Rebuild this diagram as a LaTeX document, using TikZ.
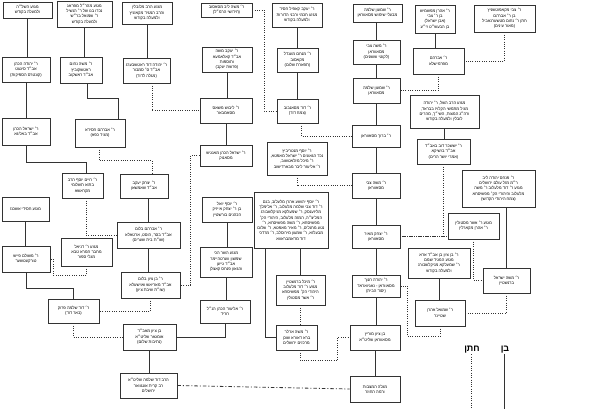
\documentclass[tikz,border=0pt]{standalone}
\usepackage{fontspec}
\newfontfamily\heb[Script=Hebrew]{Liberation Sans}
\TeXXeTstate=1
\newcommand\hebl[1]{\beginR #1\endR}
\tikzset{
  box/.style={draw=black!80, line width=0.7pt, fill=white, align=center, inner sep=0.8pt,
    font=\heb\fontsize{4.1}{5.3}\selectfont},
  son/.style={draw=black!80, line width=0.8pt},
  sil/.style={draw=black!80, line width=0.8pt, dash pattern=on 0.9pt off 1.4pt},
  dashdot/.style={draw=black!80, line width=0.8pt, dash pattern=on 3.5pt off 2pt on 1pt off 2pt},
  legendtext/.style={font=\heb\bfseries\fontsize{9}{10}\selectfont, inner sep=0.5pt}
}
\newcommand\famnode[6]{\node[box, minimum width={#4-#2}, minimum height={#5-#3}] (#1) at ({(#2+#4)/2},{(#3+#5)/2}) {#6};}
\begin{document}
\begin{tikzpicture}[x=1pt,y=-1pt]
\fill[white] (0,0) rectangle (600,409);
\useasboundingbox (0,0) rectangle (600,409);
% row A
\famnode{A1}{3}{2}{52}{18}{\hebl{מגזע השל״ה}\\\hebl{ולמעלה בקודש}}
\famnode{A2}{57}{1}{112}{27}{\hebl{מגזע מהר״ל מפראג}\\\hebl{נכדו בנו של ר׳ הנשיל}\\\hebl{ר׳ שמואל בר״ש}\\\hebl{ולמעלה בקודש}}
\famnode{A3}{122}{2}{172}{24}{\hebl{מגזע הרב מלובלין}\\\hebl{והרב המגיד מקאזניץ}\\\hebl{ולמעלה בקודש}}
\famnode{A4}{201}{3}{252}{17}{\hebl{ר׳ משה ליב מסאסוב}\\\hebl{(חידושי הרמ״ל)}}
\famnode{A5}{272}{3}{322}{27}{\hebl{ר׳ יעקב קאפיל חסיד}\\\hebl{מגזע חכמי ורבני הדורות}\\\hebl{ולמעלה בקודש}}
\famnode{A6}{353}{4}{402}{22}{\hebl{ר׳ שמעון שלמה}\\\hebl{מבעלי שימוש מסאווראן}}
\famnode{A7}{415}{5}{455}{33}{\hebl{ר׳ אהרן מפשמיש}\\\hebl{בן ר׳ צבי}\\\hebl{(אבן ישראל)}\\\hebl{בן הבעש״ט זי״ע}}
\famnode{A8}{474}{5}{535}{32}{\hebl{ר׳ צבי מקאפוטשניץ}\\\hebl{בן ר׳ אברהם}\\\hebl{חתן ר׳ נחום מטשערנאביל}\\\hebl{(מאור עינים)}}
% row B
\famnode{B1}{2}{57}{50}{82}{\hebl{ר׳ יהודה הכהן}\\\hebl{אב״ד סיגעט}\\\hebl{(קונטרס הספיקות)}}
\famnode{B2}{60}{57}{102}{83}{\hebl{ר׳ משה נחום}\\\hebl{ראטשקוביץ}\\\hebl{אב״ד ראשקוב}}
\famnode{B3}{123}{58}{170}{83}{\hebl{ר׳ יהודה דוד ראטשבערג}\\\hebl{אב״ד ס׳ סמבור}\\\hebl{(מגלה לדוד)}}
\famnode{B4}{202}{47}{252}{72}{\hebl{ר׳ יעקב משה}\\\hebl{אב״ד קאלאמעא}\\\hebl{ותוספות}\\\hebl{(פרשת יעקב)}}
\famnode{B5}{277}{48}{318}{72}{\hebl{ר׳ מנחם מענדל}\\\hebl{מקאסוב}\\\hebl{(תפארת שלום)}}
\famnode{B6}{353}{40}{400}{64}{\hebl{ר׳ משה צבי}\\\hebl{מסאווראן}\\\hebl{(לקוטי שושנים)}}
\famnode{B7}{413}{48}{464}{74}{\hebl{ר׳ אברהם}\\\hebl{מפרמישלא}}
% row C
\famnode{C1}{2}{118}{50}{145}{\hebl{ר׳ ישראל הכהן}\\\hebl{אב״ד באליגא}}
\famnode{C2}{75}{119}{125}{147}{\hebl{ר׳ אברהם חסידא}\\\hebl{(מגיד כפא)}}
\famnode{C3}{200}{98}{252}{123}{\hebl{ר׳ ליבוש משאס}\\\hebl{מסאמבאר}}
\famnode{C4}{277}{99}{318}{123}{\hebl{ר׳ דוד מסאנבוב}\\\hebl{(צמח דוד)}}
\famnode{C5}{353}{78}{400}{103}{\hebl{ר׳ שמעון שלמה}\\\hebl{מסאווראן}}
\famnode{C6}{352}{125}{400}{147}{\hebl{ר׳ ברוך מסאווראן}}
\famnode{C7}{410}{95}{479}{128}{\hebl{מגזע הרב השל, ר׳ יהודה}\\\hebl{מגיל מתמשי הקלויז בבראד,}\\\hebl{ורה״ג המצות, השי״ך, מהרים}\\\hebl{לובלין ולמעלה בקודש}}
\famnode{C8}{417}{139}{470}{164}{\hebl{ר׳ יששכר דוב באב״ד}\\\hebl{אב״ד בזשיקא}\\\hebl{(אמרי יושר הרים)}}
% row D
\famnode{D1}{62}{173}{103}{198}{\hebl{ר׳ חיים יוסף הרב}\\\hebl{בתוא תשלומי}\\\hebl{מקראשא}}
\famnode{D2}{120}{174}{168}{198}{\hebl{ר׳ יצחק יעקב}\\\hebl{אב״ד שאמשאן}}
\famnode{D3}{2}{197}{49}{221}{\hebl{מגזע חסידי אשכנז}}
\famnode{D4}{200}{145}{252}{166}{\hebl{ר׳ ישראל הכהן מאנגיש}\\\hebl{מסאנוק}}
\famnode{D5}{267}{142}{327}{175}{\hebl{ר׳ יוסף מנטריביץ}\\\hebl{נכד הגאונים ר׳ ישראל מאפטא,}\\\hebl{ר׳ מיכל מזלאטשוב,}\\\hebl{ר׳ אליעזר ליבר מבארדישוב}}
\famnode{D6}{352}{173}{400}{198}{\hebl{ר׳ משה צבי}\\\hebl{מסאווראן}}
\famnode{D7}{462}{170}{535}{207}{\hebl{ר׳ פנחס יהודה ליב}\\\hebl{ר״מ מזל עולם ירושלים}\\\hebl{מגזע ר׳ דוד מלעלוב ר׳ משה}\\\hebl{מלעלוב והיהודי הק׳ מפשיסחא}\\\hebl{(צמח היהודי הקדוש)}}
% row E
\famnode{E1}{117}{222}{180}{248}{\hebl{ר׳ אברהם בלום}\\\hebl{אב״ד בסר, הוסט, ארטאלא}\\\hebl{(שו״ת בית שערים)}}
\famnode{E2}{202}{197}{252}{222}{\hebl{ר׳ יוסף יואל}\\\hebl{בן ר׳ יצחק אייזיק}\\\hebl{הכהנים בורשטיין}}
\famnode{E3}{254}{192}{328}{248}{\hebl{ר׳ יוסף יהושע אהרן מלעלוב, בנם}\\\hebl{ר׳ דוד צבי שלמה מלעלוב, ר׳ אלימלך}\\\hebl{מליזענסק, ר׳ שמעלקא מניקלשבורג}\\\hebl{המליצ״ה, המזה מלעלוב, היהודי הק׳}\\\hebl{מפשיסחא, ר׳ משה מפשיסחא, ר׳}\\\hebl{נטע מחנלים, ר׳ מאיר מאפטא, ר׳ שלום}\\\hebl{מבעלזא, ר׳ שמעון מירוסלב, ר׳ מרדכי}\\\hebl{דוד מדאמבראווא}}
\famnode{E4}{352}{225}{400}{248}{\hebl{ר׳ יצחק מאיר}\\\hebl{מסאווראן}}
\famnode{E5}{448}{213}{499}{239}{\hebl{מגזע ר׳ אשר מסטולין}\\\hebl{ר׳ אהרן מקארלין}}
\famnode{E6}{2}{246}{50}{272}{\hebl{ר׳ משולם פייש}\\\hebl{טורקעטשער}}
\famnode{E7}{61}{238}{112}{266}{\hebl{מגזע ר׳ דניאל}\\\hebl{מחבר חמרא טבא}\\\hebl{מגלי ספור}}
% row F
\famnode{F1}{121}{272}{180}{298}{\hebl{ר׳ בן ציון בלום}\\\hebl{אב״ד מאריאש ואוישעלא}\\\hebl{(שו״ת שיבת ציון)}}
\famnode{F2}{200}{247}{252}{277}{\hebl{מגזע השר הכי}\\\hebl{שמשון ווערטהיימר}\\\hebl{אב״ד גייען}\\\hebl{והגאון פנחס קאצלן}}
\famnode{F3}{408}{248}{470}{278}{\hebl{ר׳ בן ציון בן אב״ד ארא}\\\hebl{מגזע המגיד שמם}\\\hebl{ר׳ שמעלקא מניקלשבורג}\\\hebl{ולמעלה בקודש}}
\famnode{F4}{483}{268}{530}{293}{\hebl{ר׳ משה ישראל}\\\hebl{ברנשטיין}}
\famnode{F5}{276}{275}{325}{305}{\hebl{ר׳ מיכל ברנשטיין}\\\hebl{מגזע ר׳ דוד מלעלוב}\\\hebl{היהודי הק׳ מפשיסחא}\\\hebl{ר׳ אשר מסטולין}}
\famnode{F6}{352}{275}{400}{297}{\hebl{ר׳ יהודה חנוך}\\\hebl{מסאווראן - נאגיואראד}\\\hebl{(יסוד הבית)}}
% row G
\famnode{G1}{48}{299}{99}{323}{\hebl{ר׳ דוד שלמה פרוק}\\\hebl{(באר דוד)}}
\famnode{G2}{200}{300}{250}{323}{\hebl{ר׳ אליעזר הכהן הנ״ל}\\\hebl{חריד}}
\famnode{G3}{415}{300}{465}{326}{\hebl{ר׳ שמואל אהרן}\\\hebl{שטיינר}}
% row H
\famnode{H1}{123}{324}{176}{350}{\hebl{בן ציון מאב״ד}\\\hebl{אומגאר שליט״א}\\\hebl{(נתיבות שלום)}}
\famnode{H2}{276}{325}{317}{350}{\hebl{ר׳ משה ארלר}\\\hebl{ברא דאורא שוכן}\\\hebl{מרכזים ירושלים}}
\famnode{H3}{350}{325}{400}{350}{\hebl{בן ציון מוריץ}\\\hebl{מסאווראן שליט״א}}
% row I
\famnode{I1}{120}{373}{177}{398}{\hebl{הרב דוד שלמה שליט״א}\\\hebl{רב קרית אונגוואר}\\\hebl{ירושלים}}
\famnode{I2}{350}{376}{400}{402}{\hebl{מגלה המצבות}\\\hebl{ורמה החוזר}}
% legend
\node[legendtext] (lgsil) at (472,350) {\hebl{חתן}};
\node[legendtext] (lgson) at (505,350) {\hebl{בן}};
\coordinate (lgsilend) at (471,409);
\coordinate (lgsonend) at (504,409);
\draw[sil] (lgsil.south -| lgsilend) -- (lgsilend);
\draw[son] (lgson.south -| lgsonend) -- (lgsonend);
% sons (solid)
\draw[son] (A1.south) -- (A1.south |- B1.north);
\draw[son] (A2.south) -- (A2.south |- B2.north);
\draw[son] (A3.south) -- (A3.south |- B3.north);
\draw[son] (B1.south) -- (B1.south |- C1.north);
\draw[son] ([xshift=6pt]B2.south) -- ++(0,15) -| ([xshift=18pt]C2.north);
\draw[son] (C1.south) -- ++(0,17) -| ([xshift=3.5pt]D1.north);
\draw[son] (D3.south) -- (D3.south |- E6.north);
\draw[son] (E6.south) -- ++(0,16) -| (G1.north);
\draw[son] (E1.north |- D2.south) -- (E1.north);
\draw[son] (E1.south) -- (E1.south |- F1.north);
\draw[son] (H1.south) -- (H1.south |- I1.north);
\draw[son] (G2.south) |- (H1.east);
\draw[son] (F2.south) -- (F2.south |- G2.north);
\draw[son] (E2.south) -- (E2.south |- F2.north);
\draw[son] (B4.south) -- (B4.south |- C3.north);
\draw[son] (C3.south) -- (C3.south |- D4.north);
\draw[son] (A5.south) -- (A5.south |- B5.north);
\draw[son] (B5.south) -- (B5.south |- C4.north);
\draw[son] (B6.north |- A6.south) -- (B6.north);
\draw[son] (B6.south) -- (B6.south |- C5.north);
\draw[son] (C5.south) -- (C5.south |- C6.north);
\draw[son] (C6.south) -- (C6.south |- D6.north);
\draw[son] (D6.south) -- (D6.south |- E4.north);
\draw[son] (E4.south) -- (E4.south |- F6.north);
\draw[son] (F6.south) -- (F6.south |- H3.north);
\draw[son] (H3.south) -- (H3.south |- I2.north);
\draw[son] (A7.south) -- (A7.south |- B7.north);
\draw[son] (C7.south) -- (C7.south |- C8.north);
\draw[son] (F4.north |- D7.south) -- (F4.north);
\draw[son] (F3.south) -- (F3.south |- G3.north);
\draw[son] (F5.north |- E3.south) -- (F5.north);
\draw[son] ([xshift=-26pt]E3.south) |- (H2.west);
% sons-in-law (dotted)
\draw[sil] ([xshift=5.5pt]B3.south) |- (C3.west);
\draw[sil] (A4.east) -- ++(12,0) |- (C4.west);
\draw[sil] ([xshift=4pt]C4.south) |- (C6.west);
\draw[sil] (A8.south) |- (B7.east);
\draw[sil] (B7.south) |- (C5.east);
\draw[sil] (C8.south) |- (E4.east);
\draw[sil] (E4.east) -- (E4.east -| E5.west);
\draw[sil] (E5.south) |- (F4.west);
\draw[sil] (F4.south) |- (G3.east);
\draw[sil] (G3.south) -- ++(0,10) -| ([xshift=7pt]F6.east) -- (F6.east);
\draw[sil] ([xshift=3.5pt]H2.south) -- ++(0,10) -| ([xshift=-12pt]H3.west) -- (H3.west);
\draw[sil] (F5.south) -- (F5.south |- H2.north);
\draw[sil] (D5.south) |- (D6.west);
\draw[sil] ([xshift=-1pt]C2.south) -- ++(0,13) -| ([xshift=8pt]D2.north);
\draw[sil] ([xshift=3.5pt]D1.south) |- (E1.west);
\draw[sil] (D4.west) -- ++(-9,0) |- (F1.east);
\draw[sil] (E7.south) -- ++(0,9) -| ([xshift=3pt]E6.east) -- (E6.east);
\draw[sil] (F1.south) |- (G1.east);
\draw[sil] (G1.south) |- (H1.west);
\draw[dashdot] (I1.east) -- (I2.west);
\end{tikzpicture}
\end{document}
